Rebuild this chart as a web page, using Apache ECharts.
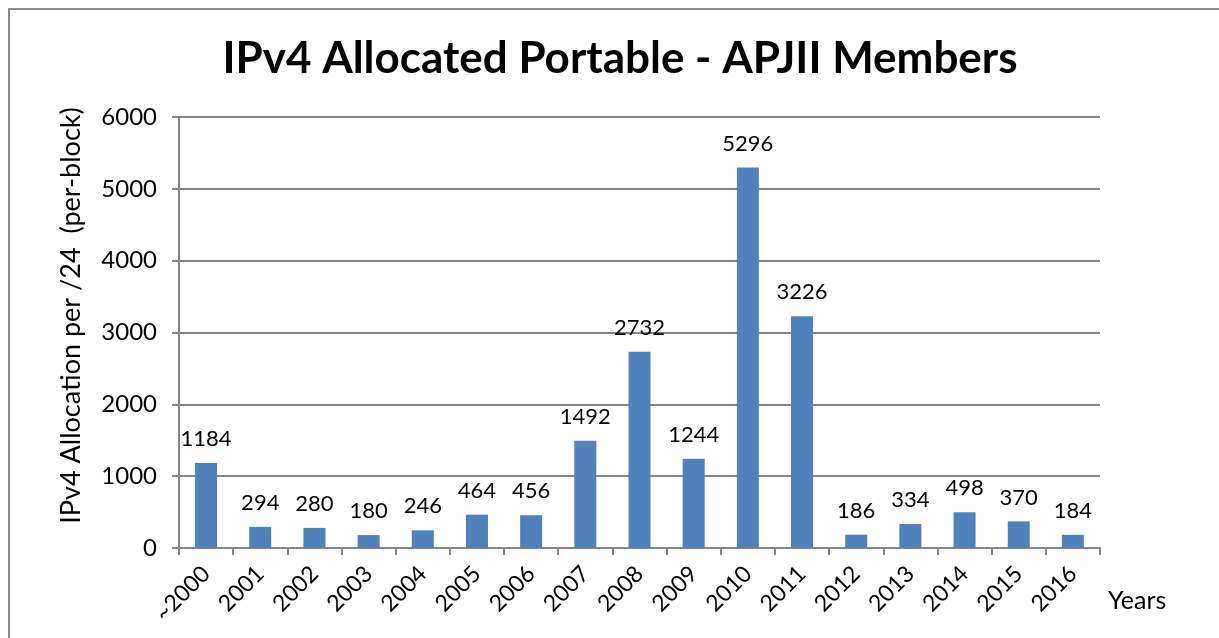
<!DOCTYPE html>
<html>
<head>
<meta charset="utf-8">
<script src="https://cdn.jsdelivr.net/npm/echarts@6/dist/echarts.min.js"></script>
<style>
  html, body { margin: 0; padding: 0; background: #fff; }
  #chart { width: 1219px; height: 638px; }
</style>
</head>
<body>
<div id="chart"></div>
<script>
const years = ['~2000', '2001', '2002', '2003', '2004', '2005', '2006', '2007', '2008',
  '2009', '2010', '2011', '2012', '2013', '2014', '2015', '2016']
const allocations = [1184, 294, 280, 180, 246, 464, 456, 1492, 2732, 1244, 5296, 3226, 186, 334, 498, 370, 184]

const font = 'Lato, "Open Sans", sans-serif'
const chart = echarts.init(document.getElementById('chart'))

chart.setOption({
  animation: false,
  graphic: [
    {
      type: 'rect',
      shape: { x: 9, y: 9, width: 1300, height: 700 },
      style: { fill: 'none', stroke: '#8c8c8c', lineWidth: 2 }
    },
    {
      type: 'text',
      left: 1108,
      top: 588,
      style: { text: 'Years', font: '25px ' + font, fill: '#000' }
    }
  ],
  title: {
    text: 'IPv4 Allocated Portable - APJII Members',
    left: 615,
    textAlign: 'center',
    top: 32,
    textStyle: { fontFamily: font, fontSize: 44, fontWeight: 'bold', color: '#000' }
  },
  grid: { left: 179, right: 119, top: 117, bottom: 90 },
  xAxis: {
    type: 'category',
    data: years,
    axisLine: { lineStyle: { color: '#868686', width: 2 } },
    axisTick: { show: true, length: 7, lineStyle: { color: '#868686', width: 2 } },
    axisLabel: { rotate: 45, fontFamily: font, fontSize: 23, color: '#000', margin: 22 }
  },
  yAxis: {
    type: 'value',
    min: 0,
    max: 6000,
    interval: 1000,
    name: 'IPv4 Allocation per /24  (per-block)',
    nameLocation: 'middle',
    nameGap: 94,
    nameTextStyle: { fontFamily: font, fontSize: 27, color: '#000', padding: [0, 0, 0, 34] },
    axisLine: { show: true, lineStyle: { color: '#868686', width: 2 } },
    axisTick: { show: true, length: 7, lineStyle: { color: '#868686', width: 2 } },
    axisLabel: { fontFamily: font, fontSize: 24, color: '#000', margin: 22, formatter: v => String(v) },
    splitLine: { lineStyle: { color: '#868686', width: 2 } }
  },
  series: [
    {
      type: 'bar',
      data: allocations,
      barWidth: 22,
      itemStyle: { color: '#4F81BD' },
      label: {
        show: true,
        position: 'top',
        distance: 13,
        fontFamily: font,
        fontSize: 22,
        color: '#000'
      }
    }
  ]
})
</script>
</body>
</html>
